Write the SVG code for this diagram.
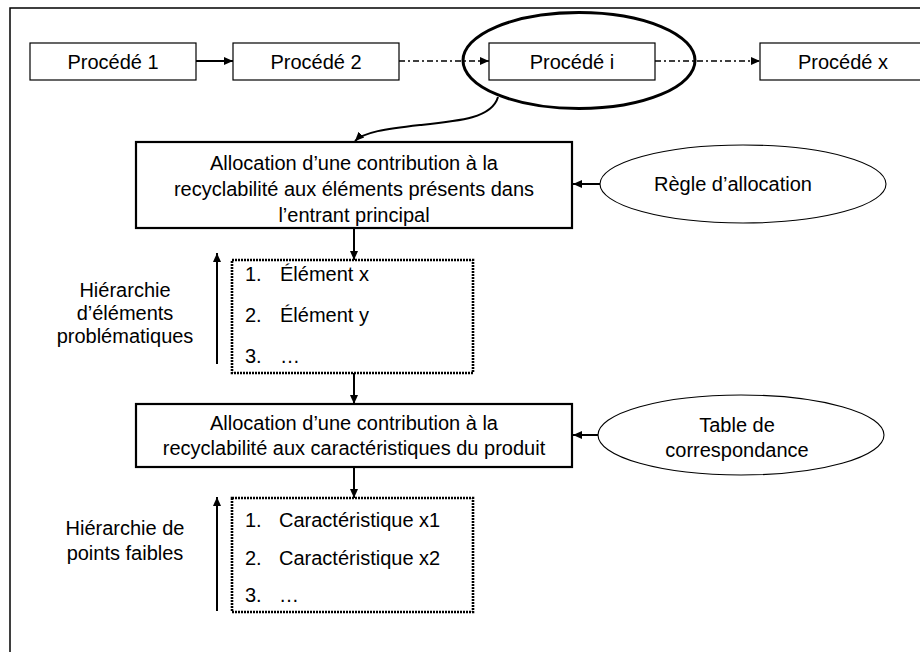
<svg xmlns="http://www.w3.org/2000/svg" width="920" height="652" viewBox="0 0 920 652">
<defs>
<marker id="ah" markerUnits="userSpaceOnUse" markerWidth="10" markerHeight="10" viewBox="0 0 10 10" refX="9" refY="5" orient="auto">
<path d="M0,1 L9,5 L0,9 Z" fill="#000"/>
</marker>
</defs>
<style>
text{font-family:"Liberation Sans",Arial,sans-serif;font-size:20px;fill:#000}
.c{text-anchor:middle}
.box{fill:#fff;stroke:#000;stroke-width:1.2}
.bbox{fill:#fff;stroke:#000;stroke-width:2.2}
.dbox{fill:#fff;stroke:#000;stroke-width:2.6;stroke-dasharray:2 1}
.ell{fill:#fff;stroke:#000;stroke-width:1.1}
.ln{fill:none;stroke:#000;stroke-width:2}
.dd{fill:none;stroke:#000;stroke-width:1.3;stroke-dasharray:6 3 2 3}
</style>
<rect width="920" height="652" fill="#fff"/>
<rect x="10" y="8" width="930" height="660" fill="none" stroke="#000" stroke-width="1.5"/>

<g id="connectors">
<line class="ln" x1="196" y1="61" x2="233" y2="61" marker-end="url(#ah)"/>
<line class="dd" x1="399" y1="61" x2="489" y2="61" marker-end="url(#ah)"/>
<line class="dd" x1="655" y1="61" x2="760" y2="61" marker-end="url(#ah)"/>
<path class="ln" d="M498,97 C492,118 460,121 420,125 C385,129 364,132 355,141" marker-end="url(#ah)"/>
<line class="ln" x1="600" y1="184" x2="573" y2="184" marker-end="url(#ah)"/>
<line class="ln" x1="354" y1="228" x2="354" y2="260" marker-end="url(#ah)"/>
<line class="ln" x1="354" y1="373" x2="354" y2="404" marker-end="url(#ah)"/>
<line class="ln" x1="598" y1="435" x2="573" y2="435" marker-end="url(#ah)"/>
<line class="ln" x1="354" y1="467" x2="354" y2="498" marker-end="url(#ah)"/>
<line class="ln" x1="217" y1="364" x2="217" y2="253" marker-end="url(#ah)"/>
<line class="ln" x1="217" y1="611" x2="217" y2="497" marker-end="url(#ah)"/>
</g>

<g id="procede1">
<rect class="box" x="30" y="43" width="166" height="37"/>
<text class="c" x="113" y="69">Procédé 1</text>
</g>
<g id="procede2">
<rect class="box" x="233" y="43" width="166" height="37"/>
<text class="c" x="316" y="69">Procédé 2</text>
</g>
<g id="procedei">
<rect class="box" x="489" y="43" width="166" height="37"/>
<text class="c" x="572" y="69">Procédé i</text>
</g>
<g id="procedex">
<rect class="box" x="760" y="43" width="170" height="37"/>
<text class="c" x="843" y="69">Procédé x</text>
</g>
<g id="highlight">
<ellipse cx="579" cy="60.5" rx="116" ry="48" fill="none" stroke="#000" stroke-width="3"/>
</g>

<g id="allocation1">
<rect class="bbox" x="136" y="142" width="436" height="86"/>
<text class="c" x="354" y="170">Allocation d’une contribution à la</text>
<text class="c" x="354" y="196">recyclabilité aux éléments présents dans</text>
<text class="c" x="354" y="222">l’entrant principal</text>
</g>
<g id="regle">
<ellipse class="ell" cx="743" cy="184" rx="143" ry="39"/>
<text class="c" x="733" y="191">Règle d’allocation</text>
</g>

<g id="hierarchie1">
<text class="c" x="125" y="297">Hiérarchie</text>
<text class="c" x="125" y="320">d’éléments</text>
<text class="c" x="125" y="343">problématiques</text>
</g>
<g id="liste1">
<rect class="dbox" x="232" y="260" width="241" height="113"/>
<text x="245" y="281">1.</text><text x="280" y="281">Élément x</text>
<text x="245" y="322">2.</text><text x="280" y="322">Élément y</text>
<text x="245" y="363">3.</text><text x="280" y="363">…</text>
</g>

<g id="allocation2">
<rect class="bbox" x="136" y="404" width="436" height="63"/>
<text class="c" x="354" y="430">Allocation d’une contribution à la</text>
<text class="c" x="354" y="455">recyclabilité aux caractéristiques du produit</text>
</g>
<g id="table">
<ellipse class="ell" cx="741" cy="435" rx="143" ry="40"/>
<text class="c" x="737" y="432">Table de</text>
<text class="c" x="737" y="457">correspondance</text>
</g>

<g id="hierarchie2">
<text class="c" x="125" y="535">Hiérarchie de</text>
<text class="c" x="125" y="560">points faibles</text>
</g>
<g id="liste2">
<rect class="dbox" x="232" y="498" width="241" height="114"/>
<text x="245" y="527">1.</text><text x="279" y="527">Caractéristique x1</text>
<text x="245" y="565">2.</text><text x="279" y="565">Caractéristique x2</text>
<text x="245" y="602">3.</text><text x="279" y="602">…</text>
</g>
</svg>
